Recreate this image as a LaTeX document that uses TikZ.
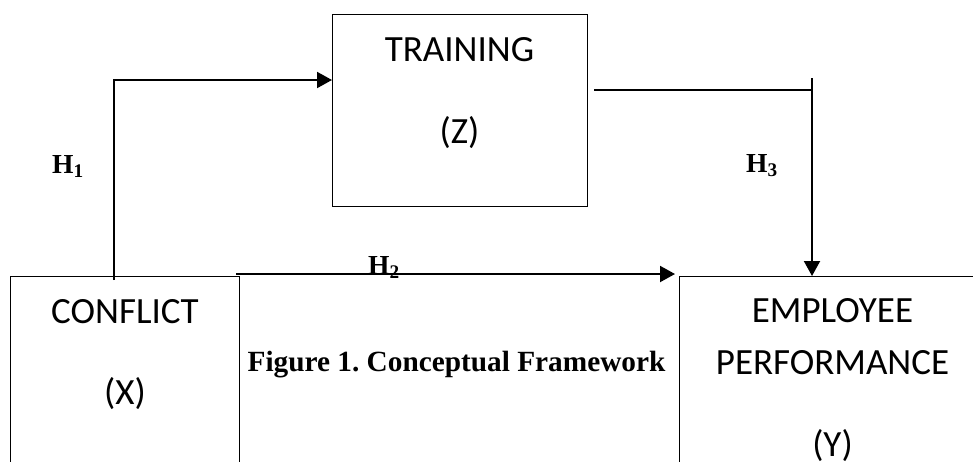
\documentclass[tikz,border=0pt]{standalone}
\usepackage{fontspec}
\setmainfont{Liberation Serif}
\newfontfamily\boxfont{Carlito}
\usetikzlibrary{arrows.meta}
\frenchspacing

\tikzset{
  boxshape/.style={draw, line width=1.4pt, rectangle, inner sep=0pt, anchor=north west},
  boxtext/.style={font=\boxfont\fontsize{37}{40}\selectfont, inner sep=0pt, anchor=base},
  hlabel/.style={font=\bfseries\fontsize{27.5}{30}\selectfont, inner sep=0pt, anchor=base west},
  link/.style={line width=2pt},
  arr/.style={link, -{Triangle[length=15pt,width=16pt]}}
}

\begin{document}
\begin{tikzpicture}[x=1pt,y=-1pt]
  \useasboundingbox (0,0) rectangle (973,461);

  % the three variable boxes
  \node[boxshape, minimum width=229pt, minimum height=230pt] (conflict) at (10,276) {};
  \node[boxshape, minimum width=255pt, minimum height=192pt] (training) at (332,14) {};
  \node[boxshape, minimum width=310pt, minimum height=230pt] (perf) at (679,276) {};

  % box texts
  \node[boxtext] (tconf) at (125,323) {CONFLICT};
  \node[boxtext] (tx) at (125,404) {(X)};
  \node[boxtext] (ttrain) at (459.5,61) {TRAINING};
  \node[boxtext] (tz) at (459.5,143) {(Z)};
  \node[boxtext] (temp) at (832.5,322) {EMPLOYEE};
  \node[boxtext] (tperf) at (832.5,374) {PERFORMANCE};
  \node[boxtext] (ty) at (832.5,456) {(Y)};

  % connector end points
  \coordinate (h1up) at (114,80);
  \coordinate (h3corner) at (812,90);

  % H1: conflict -> training
  \draw[arr] ([yshift=-4pt]conflict.north -| h1up) |- (h1up -| training.west);
  % H2: conflict -> employee performance
  \draw[arr] ([xshift=-4pt,yshift=2pt]conflict.north east) -- ([xshift=-4pt,yshift=2pt]perf.north west);
  % H3: training -> employee performance
  \draw[link] ([xshift=6pt]training.east |- h3corner) -- (h3corner);
  \draw[arr] ([yshift=12pt]h3corner) -- (h3corner |- perf.north);

  % hypothesis labels
  \node[hlabel] (h1) at (52,173) {H\textsubscript{1}};
  \node[hlabel] (h2) at (368,274) {H\textsubscript{2}};
  \node[hlabel] (h3) at (746,172) {H\textsubscript{3}};

  % caption
  \node[font=\bfseries\fontsize{29.3}{32}\selectfont, inner sep=0pt, anchor=base] (caption) at (456.5,371) {Figure 1. Conceptual Framework};
\end{tikzpicture}
\end{document}
